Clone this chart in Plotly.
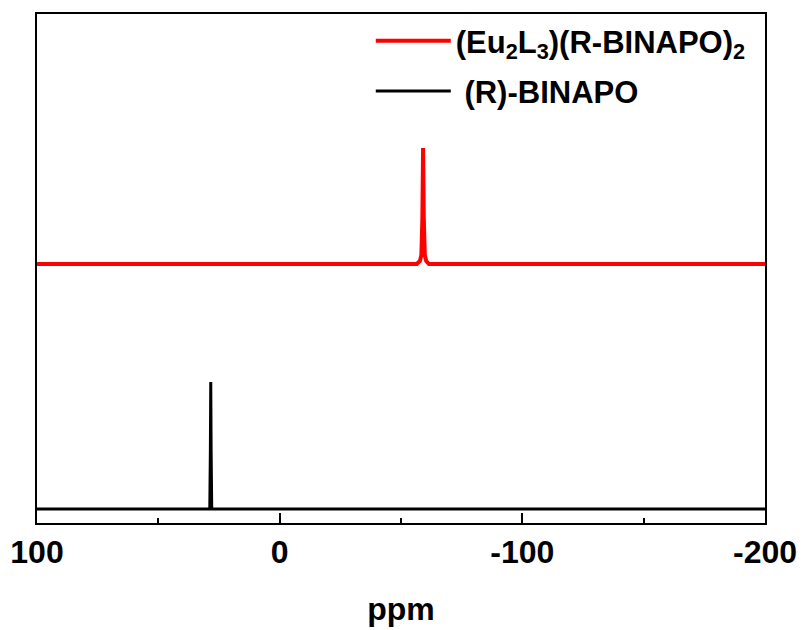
import plotly.graph_objects as go

# Spectra (ppm, relative intensity, baseline = 0)
ppm_complex = [100, -56.5, -57.8, -58.4, -58.8, -59.1, -59.4, -59.8, -60.4, -61.5, -200]
int_complex = [0.0, 0.0, 0.03, 0.09, 0.45, 1.16, 0.45, 0.09, 0.03, 0.0, 0.0]

ppm_ligand = [100, 28.8, 28.55, 28.4, 28.25, 28.0, -200]
int_ligand = [0.0, 0.0, 0.6, 1.27, 0.6, 0.0, 0.0]

stack_offset = 2.45  # vertical offset of the complex spectrum

names = ["(Eu<sub>2</sub>L<sub>3</sub>)(R-BINAPO)<sub>2</sub>", " (R)-BINAPO"]
colors = ["#ff0000", "#000000"]

x_ticks = [100, 0, -100, -200]
x_tick_text = ["100", "0", "-100", "-200"]

FONT = "Liberation Sans, Arial, sans-serif"

fig = go.Figure()
fig.add_trace(go.Scatter(
    x=ppm_complex, y=[v + stack_offset for v in int_complex],
    mode="lines", name=names[0], legendgroup="a",
    line=dict(color=colors[0], width=4)))
fig.add_trace(go.Scatter(
    x=ppm_ligand, y=int_ligand,
    mode="lines", name=names[1], legendgroup="b",
    line=dict(color=colors[1], width=3)))

fig.update_layout(
    width=803, height=630,
    margin=dict(l=37, r=38, t=14, b=107, autoexpand=False),
    plot_bgcolor="white", paper_bgcolor="white",
    font=dict(family=FONT, color="black", size=24, weight="bold"),
    showlegend=True,
    legend=dict(x=0.4585, y=1.0, xanchor="left", yanchor="top",
                bgcolor="rgba(0,0,0,0)", tracegroupgap=7,
                font=dict(size=31, family=FONT, weight="bold"),
                itemwidth=75),
    xaxis=dict(range=[100, -200], tickvals=x_ticks, ticktext=x_tick_text,
               automargin=False,
               ticks="inside", ticklen=10, tickwidth=2, tickcolor="black",
               minor=dict(dtick=50, ticks="inside", ticklen=5, tickwidth=2, tickcolor="black"),
               showline=True, linewidth=2, linecolor="black", mirror=True,
               showgrid=False, zeroline=False,
               tickfont=dict(size=32, family=FONT, weight="bold"),
               title=dict(text="ppm", font=dict(size=32, family=FONT, weight="bold"), standoff=28)),
    yaxis=dict(range=[-0.14, 4.95], showticklabels=False, ticks="", automargin=False,
               showline=True, linewidth=2, linecolor="black", mirror=True,
               showgrid=False, zeroline=False),
)

fig.write_html("out.html")
